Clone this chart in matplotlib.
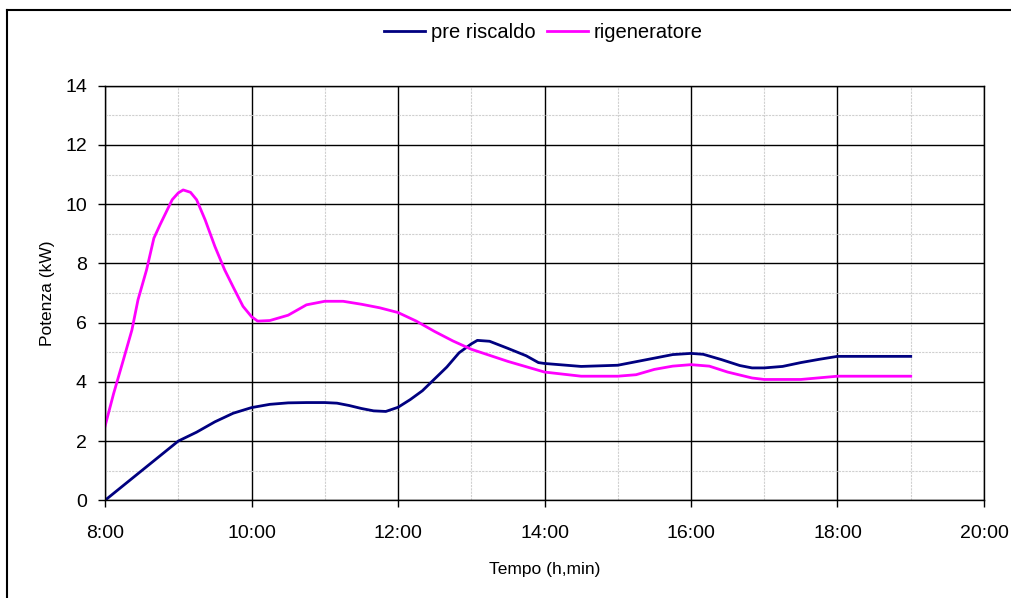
import matplotlib
matplotlib.use('Agg')
import matplotlib.pyplot as plt
from matplotlib.lines import Line2D
from matplotlib.ticker import MultipleLocator, FuncFormatter

# ── Data ──────────────────────────────────────────────────────────────
PRE_TIMES = ['8:00', '8:15', '8:30', '8:45', '9:00', '9:15', '9:30', '9:45',
             '10:00', '10:15', '10:30', '10:45', '11:00', '11:10', '11:20',
             '11:30', '11:40', '11:50', '12:00', '12:10', '12:20', '12:30',
             '12:40', '12:50', '13:00', '13:05', '13:15', '13:30', '13:45',
             '13:55', '14:00', '14:30', '15:00', '15:15', '15:30', '15:45',
             '16:00', '16:10', '16:25', '16:40', '16:50', '17:00', '17:15',
             '17:30', '17:45', '18:00', '19:00']
PRE_KW = [0.0, 0.5, 1.0, 1.5, 2.0, 2.3, 2.65, 2.94,
          3.13, 3.24, 3.29, 3.3, 3.3, 3.28, 3.2,
          3.1, 3.02, 3.0, 3.14, 3.4, 3.7, 4.1,
          4.5, 4.98, 5.28, 5.4, 5.37, 5.13, 4.88,
          4.65, 4.62, 4.52, 4.56, 4.68, 4.8, 4.92,
          4.96, 4.93, 4.75, 4.55, 4.47, 4.47, 4.52,
          4.65, 4.76, 4.86, 4.86]

RIG_TIMES = ['8:00', '8:07', '8:15', '8:22', '8:27', '8:34', '8:40', '8:45',
             '8:55', '9:00', '9:04', '9:10', '9:15', '9:22', '9:30', '9:38',
             '9:45', '9:53', '10:00', '10:05', '10:15', '10:30', '10:45',
             '11:00', '11:15', '11:30', '11:45', '12:00', '12:15', '12:30',
             '12:45', '13:00', '13:30', '14:00', '14:30', '15:00', '15:15',
             '15:30', '15:45', '16:00', '16:15', '16:30', '16:50', '17:00',
             '17:30', '18:00', '19:00']
RIG_KW = [2.5, 3.6, 4.74, 5.75, 6.77, 7.78, 8.85, 9.3,
          10.15, 10.38, 10.48, 10.4, 10.15, 9.47, 8.57, 7.78,
          7.2, 6.55, 6.2, 6.05, 6.07, 6.25, 6.6,
          6.72, 6.72, 6.62, 6.5, 6.34, 6.05, 5.7,
          5.38, 5.1, 4.69, 4.33, 4.19, 4.19, 4.24,
          4.42, 4.53, 4.58, 4.53, 4.33, 4.13, 4.08,
          4.08, 4.19, 4.19]


def to_hours(t):
    h, m = t.split(':')
    return int(h) + int(m) / 60.0


NAVY = '#000080'
MAGENTA = '#FF00FF'

plt.rcParams['font.family'] = ['Liberation Sans', 'DejaVu Sans']

fig = plt.figure(figsize=(10.12, 5.98), dpi=100)
ax = fig.add_axes([0.1038, 0.1634, 0.8685, 0.6933])

ax.plot([to_hours(t) for t in PRE_TIMES], PRE_KW, color=NAVY, lw=2.0,
        label='pre riscaldo', solid_joinstyle='round')
ax.plot([to_hours(t) for t in RIG_TIMES], RIG_KW, color=MAGENTA, lw=2.0,
        label='rigeneratore', solid_joinstyle='round')

ax.set_xlim(8, 20)
ax.set_ylim(0, 14)
ax.xaxis.set_major_locator(MultipleLocator(2))
ax.xaxis.set_minor_locator(MultipleLocator(1))
ax.yaxis.set_major_locator(MultipleLocator(2))
ax.yaxis.set_minor_locator(MultipleLocator(1))
ax.xaxis.set_major_formatter(FuncFormatter(lambda v, p: f'{int(v)}:00'))

ax.grid(which='major', color='black', lw=1.0)
ax.grid(which='minor', color='#d0d0d0', lw=0.8, ls=(0, (2, 1)))
ax.set_axisbelow(True)
ax.tick_params(which='major', length=5, width=1, labelsize=14)
ax.tick_params(axis='x', which='major', pad=13)
ax.tick_params(axis='y', which='major', pad=8)
ax.tick_params(which='minor', length=0)
for s in ax.spines.values():
    s.set_color('black')
    s.set_linewidth(1.0)

ax.set_xlabel('Tempo (h,min)', fontsize=12.5, labelpad=14)
ax.set_ylabel('Potenza (kW)', fontsize=12.5, labelpad=7)

fig.legend(loc='center', bbox_to_anchor=(0.537, 0.945), ncol=2, frameon=False,
           fontsize=14.5, handlelength=2.0, handletextpad=0.3, columnspacing=0.6)

# chart frame (left and top edges visible)
fig.add_artist(Line2D([7 / 1012, 7 / 1012], [0, 1 - 10 / 598],
                      color='black', lw=1.5, transform=fig.transFigure))
fig.add_artist(Line2D([7 / 1012, 1], [1 - 10 / 598, 1 - 10 / 598],
                      color='black', lw=1.5, transform=fig.transFigure))

fig.savefig('out.png', dpi=100, facecolor='white')
